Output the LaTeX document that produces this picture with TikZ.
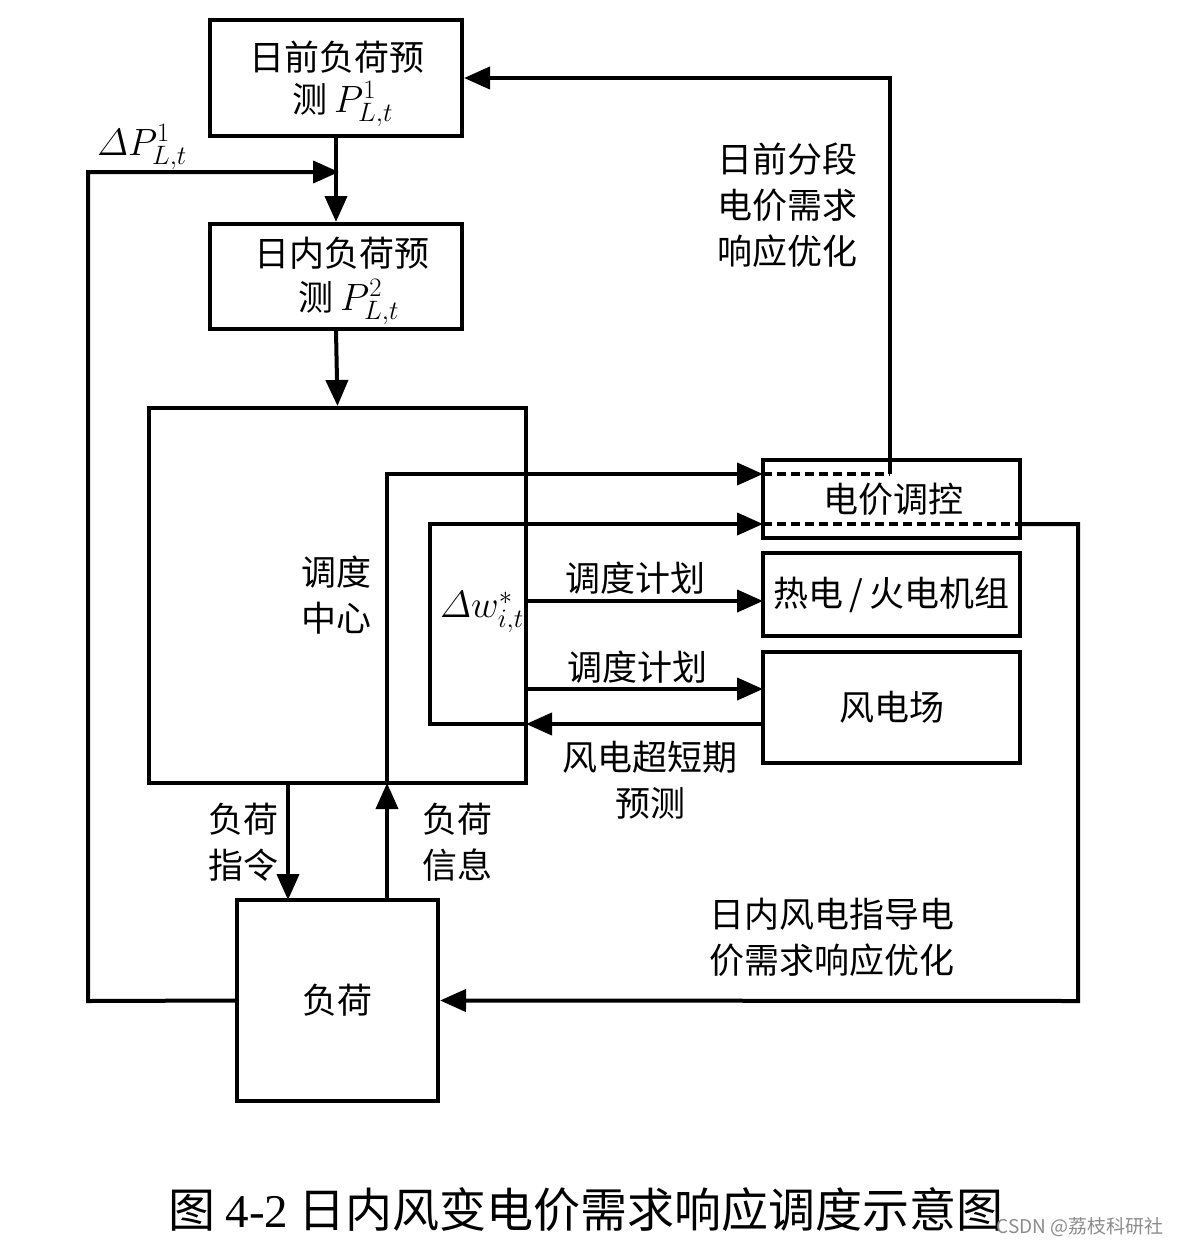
\RequirePackage{fix-cm}
\documentclass[tikz,border=0pt]{standalone}
\usepackage{amsmath}
\usepackage{fontspec}
\newfontfamily\cjk{Noto Sans CJK SC}
\newfontfamily\serifnum{Liberation Serif}
\usetikzlibrary{arrows.meta}
\tikzset{
  boxstyle/.style={draw, line width=4pt, inner sep=0pt, font=\cjk\fontsize{35}{46}\selectfont, align=center},
  lbl/.style={inner sep=0pt, font=\cjk\fontsize{35}{46}\selectfont, align=center},
  mathlbl/.style={inner sep=0pt, font=\fontsize{38}{46}\selectfont},
  arr/.style={line width=4pt, -{Triangle[length=26pt,width=22pt]}},
  dotline/.style={line width=4pt, dash pattern=on 9pt off 5pt},
}
\begin{document}
\begin{tikzpicture}[x=1pt,y=-1pt]
\useasboundingbox (0,0) rectangle (1180,1247);
% boxes
\node[boxstyle, minimum width=252pt, minimum height=116pt] (A) at (336,78) {};
\node[lbl] (At1) at (337,57) {日前负荷预};
\node[lbl, anchor=base east] (At2) at (328,112) {测};
\node[mathlbl, anchor=base west] (At3) at (334,112) {$P^{1}_{L,t}$};
\node[boxstyle, minimum width=252pt, minimum height=105pt] (B) at (336,276.5) {};
\node[lbl] (Bt1) at (342,253) {日内负荷预};
\node[lbl, anchor=base east] (Bt2) at (334,310) {测};
\node[mathlbl, anchor=base west] (Bt3) at (340,310) {$P^{2}_{L,t}$};
\node[boxstyle, minimum width=377pt, minimum height=375pt] (DC) at (337.5,595.5) {};
\node[lbl] (DCt) at (336,595) {调度\\中心};
\node[boxstyle, minimum width=257pt, minimum height=78pt] (P) at (891.5,499) {};
\node[lbl] (Pt) at (893,499) {电价调控};
\node[boxstyle, minimum width=257pt, minimum height=83pt] (T) at (891.5,594.5) {热电\,/\,火电机组};
\node[boxstyle, minimum width=257pt, minimum height=111pt] (W) at (891.5,707.5) {风电场};
\node[boxstyle, minimum width=201pt, minimum height=201pt] (L) at (337.5,1000.5) {负荷};
% coordinates
\coordinate (dpj) at (339,172);
\coordinate (dpl) at (88,1001);
\coordinate (dpu) at (88,172);
\coordinate (top1) at (890,78);
\coordinate (top2) at (890,474);
\coordinate (pin1) at (763,474);
\coordinate (pin2) at (763,524);
\coordinate (pout1) at (1017,524);
\coordinate (pout2) at (1078,524);
\coordinate (pout3) at (1078,1001);
\coordinate (info1) at (387,900);
\coordinate (info2) at (387,783);
\coordinate (info3) at (387,474);
\coordinate (cmd1) at (288,783);
\coordinate (cmd2) at (288,900);
\coordinate (w1) at (763,724);
\coordinate (w2) at (526,724);
\coordinate (w3) at (430,724);
\coordinate (w4) at (430,524);
\coordinate (s1a) at (526,601);
\coordinate (s1b) at (763,601);
\coordinate (s2a) at (526,689);
\coordinate (s2b) at (763,689);
% connectors
\draw[arr] (A.south) -- (B.north);
\draw[arr] (B.south) -- (DC.north);
\draw[arr] (L.west) -- (dpl) -- (dpu) -- (dpj);
\draw[arr] (top2) -- (top1) -- (A.east);
\draw[dotline] (pin1) -- (top2);
\draw[dotline] (pin2) -- (pout1);
\draw[arr] (pout1) -- (pout2) -- (pout3) -- (L.east);
\draw[arr] (info1) -- (info2);
\draw[arr] (info2) -- (info3) -- (pin1);
\draw[arr] (cmd1) -- (cmd2);
\draw[arr] (w1) -- (w2);
\draw[arr] (w2) -- (w3) -- (w4) -- (pin2);
\draw[arr] (s1a) -- (s1b);
\draw[arr] (s2a) -- (s2b);
% labels
\node[mathlbl] (dpL) at (142,147) {$\varDelta P^{1}_{L,t}$};
\node[mathlbl] (dwL) at (482,612) {$\varDelta w^{*}_{i,t}$};
\node[lbl] (s1L) at (635,578) {调度计划};
\node[lbl] (s2L) at (637,667) {调度计划};
\node[lbl] (topL) at (787,205) {日前分段\\电价需求\\响应优化};
\node[lbl] (wfL) at (650,780) {风电超短期\\预测};
\node[lbl] (cmdL) at (243,842) {负荷\\指令};
\node[lbl] (infL) at (457,842) {负荷\\信息};
\node[lbl] (botL) at (832,937) {日内风电指导电\\价需求响应优化};
\node[inner sep=0pt, font=\cjk\fontsize{47}{52}\selectfont] (cap) at (586,1210) {图 {\serifnum 4-2} 日内风变电价需求响应调度示意图};
\node[inner sep=0pt, font=\cjk\fontsize{19}{22}\selectfont, text=black!45] (wm) at (1080,1227) {CSDN @荔枝科研社};
\end{tikzpicture}
\end{document}
